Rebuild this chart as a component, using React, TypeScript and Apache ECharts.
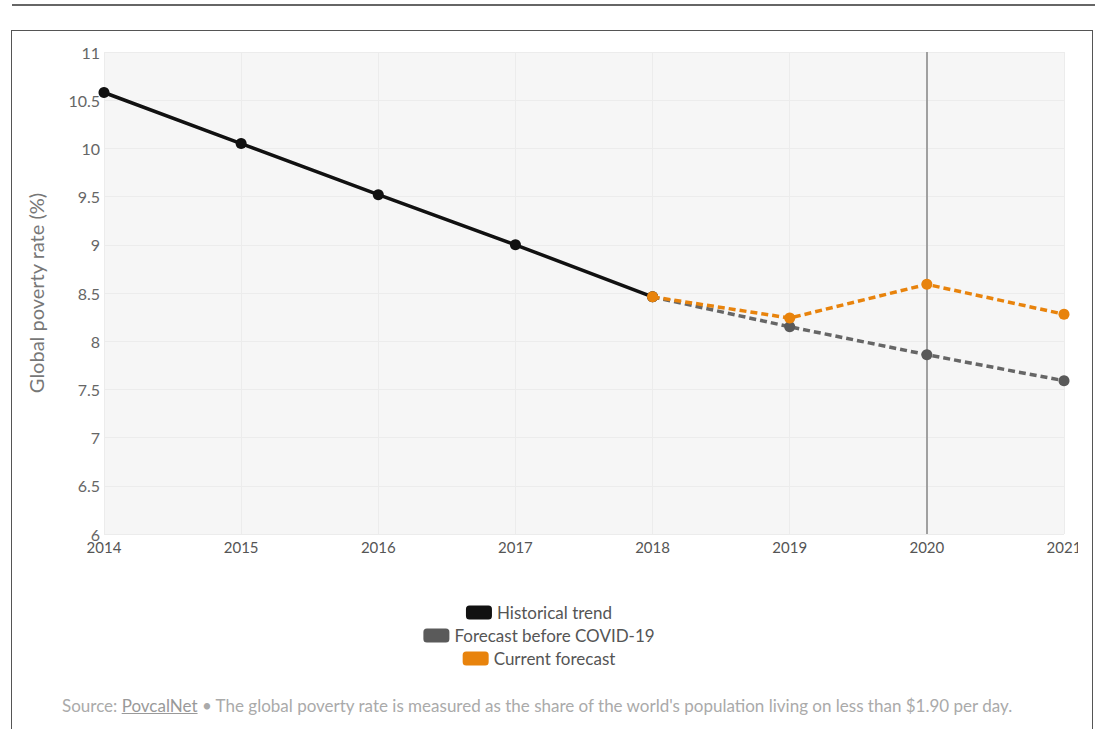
import React, { useEffect, useRef } from "react";
import * as echarts from "echarts";

const histYears = [2014, 2015, 2016, 2017, 2018];
const histValues = [10.58, 10.05, 9.52, 9.0, 8.46];
const fcYears = [2018, 2019, 2020, 2021];
const preCovidValues = [8.46, 8.15, 7.86, 7.59];
const currentValues = [8.46, 8.24, 8.59, 8.28];
const seriesNames = ["Historical trend", "Forecast before COVID-19", "Current forecast"];
const colors = ["#111111", "#666666", "#e8830c"];
const markYear = 2020;
const FONT = "Lato, 'Open Sans', sans-serif";

export default function App() {
  const ref = useRef<HTMLDivElement>(null);
  useEffect(() => {
    if (!ref.current) return;
    const chart = echarts.init(ref.current, undefined, { renderer: "svg" });
    const pairs = (xs: number[], ys: number[]) => xs.map((x, i) => [x, ys[i]]);
    const legendTops = [599, 622, 645];
    chart.setOption({
      animation: false,
      textStyle: { fontFamily: FONT },
      grid: {
        left: 104,
        top: 52,
        width: 960,
        height: 482,
        containLabel: false,
        outerBoundsMode: "none",
        show: true,
        backgroundColor: "#f6f6f6",
        borderWidth: 0,
      },
      legend: seriesNames.map((n, i) => ({
        data: [n],
        left: "center",
        top: legendTops[i],
        icon: "roundRect",
        itemWidth: 26,
        itemHeight: 14,
        itemGap: 6,
        selectedMode: false,
        textStyle: { color: "#555", fontSize: 17, fontFamily: FONT },
      })),
      xAxis: {
        type: "value",
        min: 2014,
        max: 2021,
        interval: 1,
        axisLine: { show: false },
        axisTick: { show: false },
        splitLine: { show: true, lineStyle: { color: "#ececec", width: 1 } },
        axisLabel: {
          color: "#555",
          fontSize: 15,
          margin: 5,
          formatter: (v: number) => String(v),
          fontFamily: FONT,
        },
      },
      yAxis: {
        type: "value",
        min: 6,
        max: 11,
        interval: 0.5,
        name: "Global poverty rate (%)",
        nameLocation: "middle",
        nameGap: 58,
        nameTextStyle: { color: "#777", fontSize: 20, fontFamily: FONT },
        axisLine: { show: false },
        axisTick: { show: false },
        splitLine: { show: true, lineStyle: { color: "#ececec", width: 1 } },
        axisLabel: { color: "#666", fontSize: 16, margin: 4, fontFamily: FONT },
      },
      series: [
        {
          name: seriesNames[0],
          type: "line",
          data: pairs(histYears, histValues),
          symbol: "circle",
          symbolSize: 11,
          lineStyle: { color: colors[0], width: 3.5 },
          itemStyle: { color: colors[0] },
          z: 3,
        },
        {
          name: seriesNames[1],
          type: "line",
          data: pairs(fcYears, preCovidValues),
          symbol: "circle",
          symbolSize: 11,
          lineStyle: { color: colors[1], width: 3.5, type: [7, 4] },
          itemStyle: { color: "#5a5a5a" },
          z: 4,
          markLine: {
            silent: true,
            symbol: "none",
            label: { show: false },
            lineStyle: { color: "#a0a0a0", width: 2, type: "solid" },
            data: [{ xAxis: markYear }],
            z: 1,
          },
        },
        {
          name: seriesNames[2],
          type: "line",
          data: pairs(fcYears, currentValues),
          symbol: "circle",
          symbolSize: 11,
          lineStyle: { color: colors[2], width: 3.5, type: [7, 4] },
          itemStyle: { color: colors[2] },
          z: 5,
        },
      ],
    });
    return () => chart.dispose();
  }, []);

  return (
    <div style={{ position: "fixed", left: 0, top: 0, width: 1099, height: 729, background: "#fff", overflow: "hidden" }}>
      <div style={{ position: "absolute", left: 12, top: 4, width: 1083, height: 2, background: "#666" }} />
      <div
        style={{
          position: "absolute",
          left: 11,
          top: 30,
          width: 1082,
          height: 760,
          border: "1px solid #555",
          boxSizing: "border-box",
        }}
      />
      <div ref={ref} style={{ position: "absolute", left: 0, top: 0, width: 1078, height: 729 }} />
      <div
        style={{
          position: "absolute",
          left: 62,
          top: 695,
          fontFamily: FONT,
          fontSize: 17,
          color: "#aaa",
          whiteSpace: "nowrap",
        }}
      >
        Source: <span style={{ textDecoration: "underline", color: "#999" }}>PovcalNet</span> • The global poverty rate is
        measured as the share of the world's population living on less than $1.90 per day.
      </div>
    </div>
  );
}
